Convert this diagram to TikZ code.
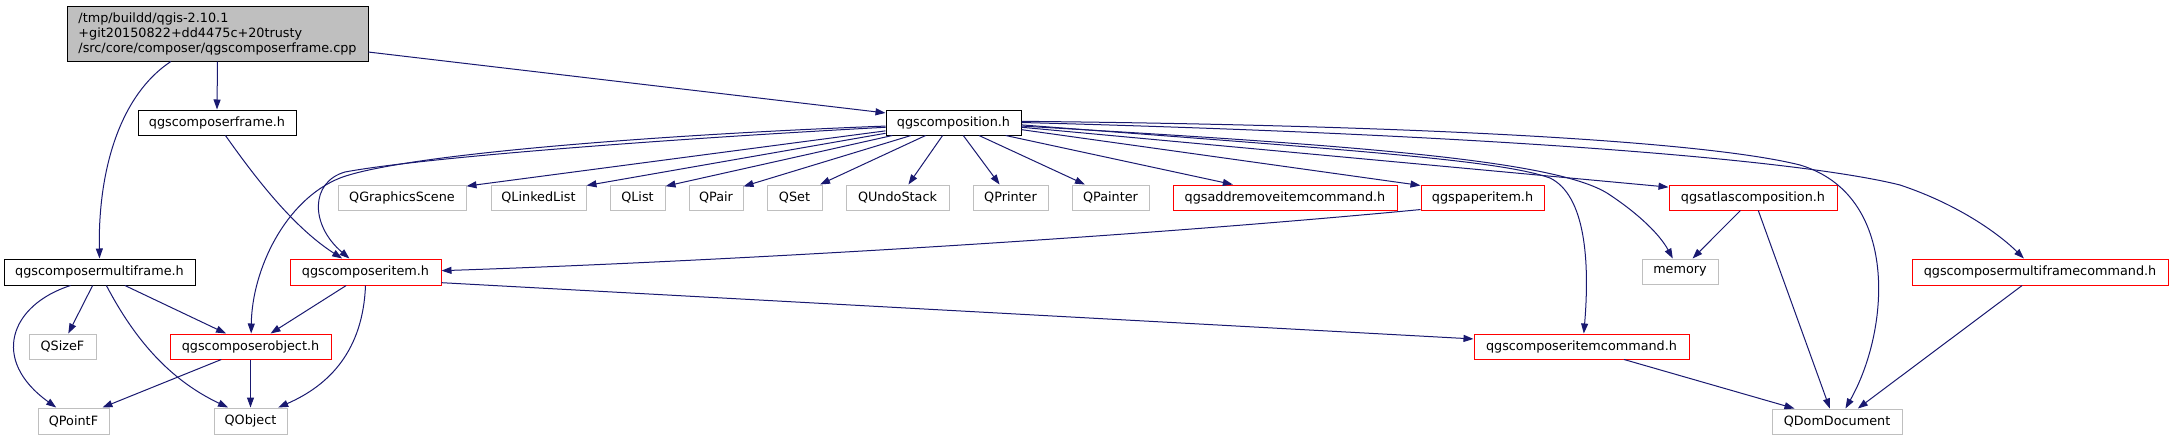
\documentclass[tikz,border=0pt]{standalone}
\usepackage{fontspec}
\setmainfont{DejaVu Sans}
\usetikzlibrary{arrows.meta}
\definecolor{edgecol}{HTML}{191970}
\definecolor{boxgray}{HTML}{BFBFBF}
\definecolor{boxred}{HTML}{FF0000}
\begin{document}
\begin{tikzpicture}[x=1pt,y=-1pt,
  base/.style={rectangle, inner sep=0pt, minimum height=25pt, font=\fontsize{12.8}{15}\selectfont, text=black, line width=1pt},
  blackbox/.style={base, draw=black},
  redbox/.style={base, draw=boxred},
  graybox/.style={base, draw=boxgray},
  dep/.style={draw=edgecol, line width=1pt, -{Triangle[length=10pt,width=7pt]}}]
\useasboundingbox (0,0) rectangle (2173,440);
% nodes
\node[blackbox, fill=boxgray, minimum width=301pt, minimum height=55pt, align=left] (root) at (217.5,33.5)
  {/tmp/buildd/qgis-2.10.1\\+git20150822+dd4475c+20trusty\\/src/core/composer/qgscomposerframe.cpp};
\node[blackbox, minimum width=158pt] (frame) at (217,122.5) {qgscomposerframe.h};
\node[blackbox, minimum width=135pt] (comp) at (953.5,122.5) {qgscomposition.h};
\node[blackbox, minimum width=191pt, minimum height=26pt] (mf) at (99.5,272) {qgscomposermultiframe.h};
\node[redbox, minimum width=151pt, minimum height=26pt] (ci) at (365.5,272) {qgscomposeritem.h};
\node[graybox, minimum width=128pt] (qgs) at (402,197.5) {QGraphicsScene};
\node[graybox, minimum width=95pt] (qll) at (538.5,197.5) {QLinkedList};
\node[graybox, minimum width=55pt] (ql) at (637.5,197.5) {QList};
\node[graybox, minimum width=54pt] (qp) at (716,197.5) {QPair};
\node[graybox, minimum width=55pt] (qs) at (794.5,197.5) {QSet};
\node[graybox, minimum width=103pt] (qu) at (897.5,197.5) {QUndoStack};
\node[graybox, minimum width=75pt] (qpr) at (1010.5,197.5) {QPrinter};
\node[graybox, minimum width=77pt] (qpa) at (1110.5,197.5) {QPainter};
\node[redbox, minimum width=224pt] (ar) at (1285,197.5) {qgsaddremoveitemcommand.h};
\node[redbox, minimum width=123pt] (pi) at (1482.5,197.5) {qgspaperitem.h};
\node[redbox, minimum width=168pt] (atl) at (1753,197.5) {qgsatlascomposition.h};
\node[graybox, minimum width=76pt] (mem) at (1680,271.5) {memory};
\node[redbox, minimum width=256pt, minimum height=26pt] (mfc) at (2040,272) {qgscomposermultiframecommand.h};
\node[graybox, minimum width=67pt] (qsz) at (62.5,346.5) {QSizeF};
\node[redbox, minimum width=161pt] (ob) at (250.5,346.5) {qgscomposerobject.h};
\node[redbox, minimum width=215pt] (cic) at (1581.5,346.5) {qgscomposeritemcommand.h};
\node[graybox, minimum width=71pt, minimum height=26pt] (qpf) at (73.5,421) {QPointF};
\node[graybox, minimum width=73pt, minimum height=26pt] (qo) at (250.5,421) {QObject};
\node[graybox, minimum width=130pt] (qd) at (1837,421.5) {QDomDocument};
% edges
\draw[dep] (root.south) -- (frame.north);
\draw[dep] (root.211) .. controls (120,95) and (98,170) .. (mf.north);
\draw[dep] (root.-7) -- (comp.172);
\draw[dep] (frame.-57) .. controls (250,170) and (290,225) .. (ci.150);
\draw[dep] (mf.243) -- (qsz.66);
\draw[dep] (mf.205) .. controls (10,305) and (-10,360) .. (qpf.142);
\draw[dep] (mf.-63) .. controls (135,340) and (170,380) .. (qo.149);
\draw[dep] (mf.-28) -- (ob.152);
\draw[dep] (ci.215) -- (ob.33);
\draw[dep] (ci.south) .. controls (363,350) and (330,385) .. (qo.26);
\draw[dep] (ci.-8) -- (cic.176);
\draw[dep] (ob.204) -- (qpf.25);
\draw[dep] (ob.south) -- (qo.north);
\draw[dep] (comp.187) -- (qgs.10);
\draw[dep] (comp.189) -- (qll.14);
\draw[dep] (comp.192) -- (ql.22);
\draw[dep] (comp.197) -- (qp.22);
\draw[dep] (comp.205) -- (qs.27);
\draw[dep] (comp.230) -- (qu.50);
\draw[dep] (comp.307) -- (qpr.130);
\draw[dep] (comp.333) -- (qpa.153);
\draw[dep] (comp.346) -- (ar.166);
\draw[dep] (comp.-6) -- (pi.169);
\draw[dep] (comp.-4) -- (atl.173);
\draw[dep] (comp.-3) .. controls (1350,145) and (1560,160) .. (1610,195) .. controls (1640,215) and (1660,235) .. (mem.119);
\draw[dep] (comp.-2) .. controls (1350,150) and (1500,160) .. (1550,178) .. controls (1585,195) and (1590,260) .. (cic.80);
\draw[dep] (comp.1) .. controls (1400,125) and (1700,140) .. (1800,165) .. controls (1900,195) and (1890,330) .. (qd.57);
\draw[dep] (comp.0) .. controls (1500,135) and (1800,160) .. (1900,185) .. controls (1960,205) and (2000,235) .. (mfc.140);
\draw[dep] (comp.183) .. controls (650,135) and (400,155) .. (340,178) .. controls (285,200) and (252,270) .. (ob.87);
\draw[dep] (comp.184) .. controls (650,140) and (420,158) .. (345,172) .. controls (310,182) and (310,225) .. (ci.140);
\draw[dep] (pi.191) .. controls (1100,240) and (700,262) .. (ci.1);
\draw[dep] (atl.226) -- (mem.46);
\draw[dep] (atl.-68) -- (qd.119);
\draw[dep] (mfc.217) -- (qd.32);
\draw[dep] (cic.-17) -- (qd.163);
\end{tikzpicture}
\end{document}
